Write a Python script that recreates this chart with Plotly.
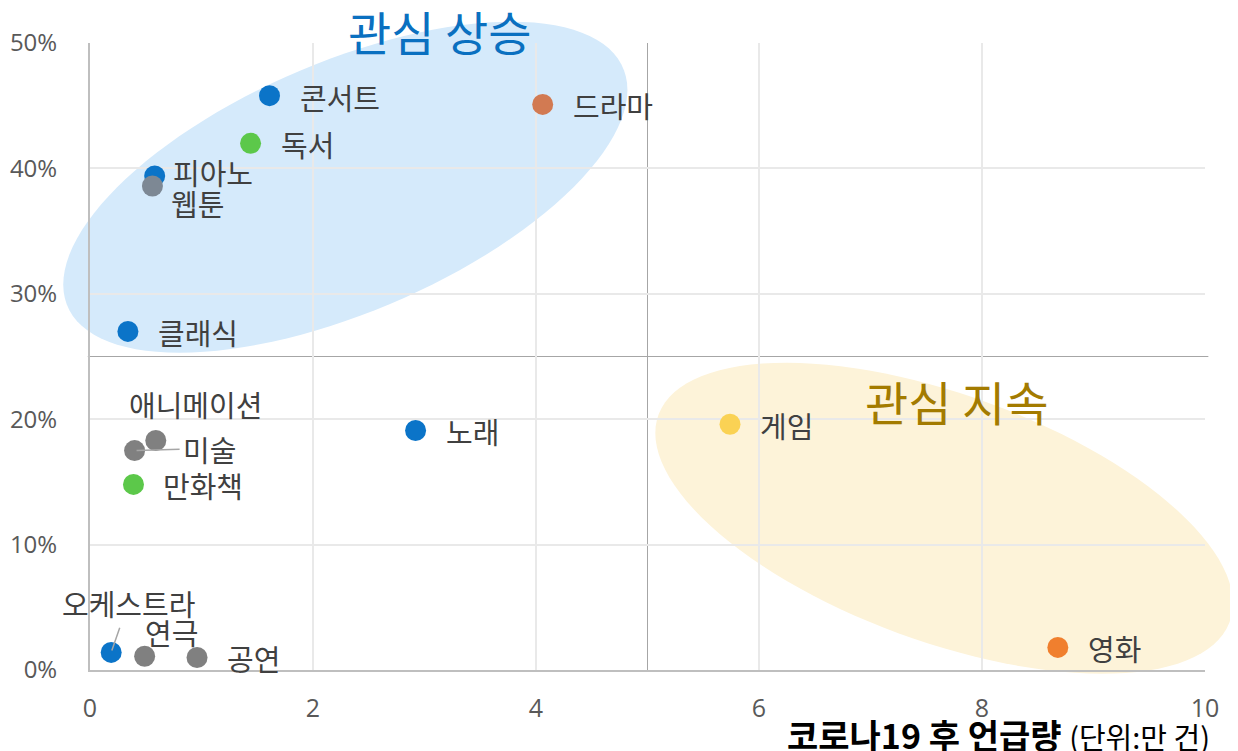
import numpy as np
import plotly.graph_objects as go

# ---- data ----
names = ["콘서트", "드라마", "독서", "피아노", "웹툰", "클래식", "노래", "애니메이션",
         "미술", "만화책", "게임", "영화", "오케스트라", "연극", "공연"]
mentions = [1.61, 4.06, 1.44, 0.58, 0.56, 0.34, 2.92, 0.59, 0.40, 0.39, 5.74, 8.68, 0.19, 0.49, 0.96]
growth = [45.8, 45.1, 42.0, 39.4, 38.6, 27.0, 19.1, 18.3, 17.5, 14.8, 19.6, 1.8, 1.4, 1.1, 1.0]
colors = ["#0b74c8", "#d27a52", "#5cc84a", "#0b74c8", "#7d8894", "#0b74c8", "#0b74c8", "#808080",
          "#808080", "#5cc84a", "#fad254", "#f07f2e", "#0b74c8", "#808080", "#808080"]
# label offsets (px) relative to point: (dx, dy, anchor, leader line)
label_pos = {
    "애니메이션": (40, -37, "center", False),
    "미술": (75, -2, "center", True),
    "오케스트라": (17, -49, "center", True),
    "연극": (27, -24, "center", False),
    "웹툰": (17, 17, "left", False),
    "피아노": (16, -4, "left", False),
}
x_ticks = [0, 2, 4, 6, 8, 10]
y_ticks = [0, 10, 20, 30, 40, 50]
y_tick_text = [f"{v}%" for v in y_ticks]
x_range = [0, 10]
y_range = [0, 50]
x_split, y_split = 5, 25

# ellipse groups (data units): center x, center y, half-width, half-height, correlation
groups = {
    "관심 상승": dict(cx=2.29, cy=38.5, wx=2.53, hy=13.2, rho=0.588, fill="#d5eafb",
                  color="#0a70c0", tx=0.314, ty=1.0207),
    "관심 지속": dict(cx=7.66, cy=12.1, wx=2.59, hy=12.4, rho=-0.548, fill="#fdf3d9",
                  color="#a37b00", tx=0.7776, ty=0.4306),
}

FONT = "Noto Sans CJK KR"
TICKFONT = "Open Sans"

fig = go.Figure()

def to_paper_x(v):
    return (v - x_range[0]) / (x_range[1] - x_range[0])

def to_paper_y(v):
    return (v - y_range[0]) / (y_range[1] - y_range[0])

shapes = []
annotations = []
for name, g in groups.items():
    t = np.linspace(0, 2 * np.pi, 121)
    phi = np.arccos(g["rho"])
    xs = g["cx"] + g["wx"] * np.cos(t)
    ys = g["cy"] + g["hy"] * np.cos(t - phi)
    path = "M " + " L ".join(f"{to_paper_x(a):.5f},{to_paper_y(b):.5f}" for a, b in zip(xs, ys)) + " Z"
    shapes.append(dict(type="path", path=path, xref="paper", yref="paper",
                       fillcolor=g["fill"], line=dict(width=0), layer="below"))
    annotations.append(dict(x=g["tx"], y=g["ty"], xref="paper", yref="paper", text=name, showarrow=False,
                            font=dict(family=FONT, size=47, color=g["color"]),
                            xanchor="center", yanchor="middle"))

# quadrant lines
shapes.append(dict(type="line", xref="x", yref="paper", x0=x_split, x1=x_split, y0=0, y1=1,
                   line=dict(color="#a6a6a6", width=1), layer="below"))
shapes.append(dict(type="line", xref="paper", yref="y", x0=-0.002, x1=1.003, y0=y_split, y1=y_split,
                   line=dict(color="#a6a6a6", width=1.2), layer="below"))

fig.add_trace(go.Scatter(x=mentions, y=growth, mode="markers",
                         marker=dict(size=21, color=colors, line=dict(width=0)),
                         hoverinfo="text", text=names, showlegend=False, cliponaxis=False))

LABEL_FONT = dict(family=FONT, size=29, color="#404040")
for n, x, y in zip(names, mentions, growth):
    if n in label_pos:
        dx, dy, anchor, leader = label_pos[n]
    else:
        dx, dy, anchor, leader = (28, 1, "left", False)
    if leader:
        annotations.append(dict(x=x, y=y, xref="x", yref="y", text=n, showarrow=True,
                                ax=dx, ay=dy, axref="pixel", ayref="pixel",
                                arrowhead=0, arrowwidth=1.5, arrowcolor="#a6a6a6",
                                standoff=2, startstandoff=2, font=LABEL_FONT))
    else:
        annotations.append(dict(x=x, y=y, xref="x", yref="y", text=n, showarrow=False,
                                xanchor=anchor, yanchor="middle", xshift=dx, yshift=-dy,
                                font=LABEL_FONT))

annotations.append(dict(x=1.006, y=-0.103, xref="paper", yref="paper",
                        text="<b>코로나19 후 언급량</b> <span style='font-size:29px'>(단위:만 건)</span>",
                        showarrow=False, xanchor="right", yanchor="middle",
                        font=dict(family=FONT, size=34, color="#000000")))

# the page body adds an 8px offset; margins compensate so the plot area lands at 90..1205 x 43..670
fig.update_layout(
    width=1238, height=751,
    margin=dict(l=82, r=41, t=35, b=89),
    paper_bgcolor="white", plot_bgcolor="white",
    shapes=shapes, annotations=annotations,
    font=dict(family=FONT),
)
fig.update_xaxes(range=x_range, tickvals=x_ticks, showgrid=True, gridcolor="#e9e9e9", gridwidth=2,
                 showline=True, linecolor="#bfbfbf", linewidth=2, zeroline=False,
                 ticks="", ticklabelstandoff=15, automargin=False,
                 tickfont=dict(family=TICKFONT, size=25, color="#595959"))
fig.update_yaxes(range=y_range, tickvals=y_ticks, ticktext=y_tick_text, showgrid=True, gridcolor="#e9e9e9",
                 gridwidth=2, showline=True, linecolor="#bfbfbf", linewidth=2, zeroline=False,
                 ticks="", ticklabelstandoff=26, automargin=False,
                 tickfont=dict(family=TICKFONT, size=24, color="#595959"))

fig.write_html("out.html")
